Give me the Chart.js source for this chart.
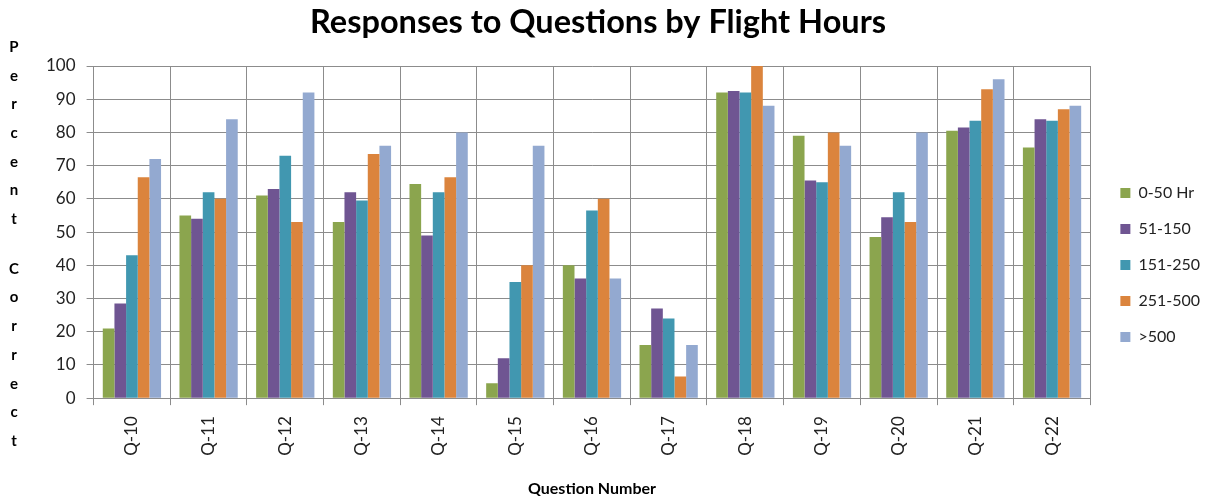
<!DOCTYPE html>
<html>
<head>
<meta charset="utf-8">
<script src="https://cdn.jsdelivr.net/npm/chart.js@4.4.1/dist/chart.umd.min.js"></script>
<style>
  html, body { margin: 0; padding: 0; background: #fff; }
  #wrap { width: 1216px; height: 500px; }
</style>
</head>
<body>
<div id="wrap"><canvas id="chart" width="1216" height="500"></canvas></div>
<script>
// Question categories (x axis)
const questions = ['Q-10', 'Q-11', 'Q-12', 'Q-13', 'Q-14', 'Q-15', 'Q-16',
  'Q-17', 'Q-18', 'Q-19', 'Q-20', 'Q-21', 'Q-22'];

// Percent correct per flight-hours group
const hrs0to50    = [21, 55, 61, 53, 64.5, 4.5, 40, 16, 92, 79, 48.5, 80.5, 75.5];
const hrs51to150  = [28.5, 54, 63, 62, 49, 12, 36, 27, 92.5, 65.5, 54.5, 81.5, 84];
const hrs151to250 = [43, 62, 73, 59.5, 62, 35, 56.5, 24, 92, 65, 62, 83.5, 83.5];
const hrs251to500 = [66.5, 60, 53, 73.5, 66.5, 40, 60, 6.5, 100, 80, 53, 93, 87];
const hrsOver500  = [72, 84, 92, 76, 80, 76, 36, 16, 88, 76, 80, 96, 88];

const seriesNames = ['0-50 Hr', '51-150', '151-250', '251-500', '>500'];
const seriesColors = ['#8ba54e', '#6f5592', '#4197b0', '#db843d', '#93a9d0'];

const yTicks = [0, 10, 20, 30, 40, 50, 60, 70, 80, 90, 100];
const yTitle = 'Percent Correct';

const FONT = 'Lato, "Open Sans", sans-serif';
const GRID = '#8c8c8c';

const datasets = [hrs0to50, hrs51to150, hrs151to250, hrs251to500, hrsOver500].map((d, i) => ({
  label: seriesNames[i],
  data: d,
  backgroundColor: seriesColors[i],
  borderWidth: 0,
  categoryPercentage: 0.76,
  barPercentage: 1.0
}));

// stacked letters for the y axis title, like the original
const stackedTitle = {
  id: 'stackedTitle',
  afterDraw(chart) {
    const ctx = chart.ctx;
    ctx.save();
    ctx.font = 'bold 15px ' + FONT;
    ctx.fillStyle = '#000';
    ctx.textAlign = 'center';
    ctx.textBaseline = 'middle';
    let y = 47;
    for (const ch of yTitle) {
      if (ch === ' ') { y += 21; continue; }
      ctx.fillText(ch, 14, y);
      y += 28.7;
    }
    ctx.restore();
  }
};

// nudge title and legend to where the original has them
const nudgeBoxes = {
  id: 'nudgeBoxes',
  afterLayout(chart) {
    const t = chart.titleBlock;
    if (t) { t.left -= 23; t.right -= 23; }
    const lg = chart.legend;
    if (lg) { lg.left += 10; lg.right += 10; lg.top += 16; lg.bottom += 16; }
  }
};

new Chart(document.getElementById('chart'), {
  type: 'bar',
  data: { labels: questions, datasets },
  plugins: [stackedTitle, nudgeBoxes],
  options: {
    responsive: false,
    animation: false,
    layout: { padding: { left: 35, right: 9, top: 0, bottom: 2 } },
    plugins: {
      title: {
        display: true,
        text: 'Responses to Questions by Flight Hours',
        color: '#000',
        font: { family: FONT, size: 32.5, weight: 'bold' },
        padding: { top: 3, bottom: 24 }
      },
      legend: {
        position: 'right',
        labels: {
          color: '#222',
          font: { family: FONT, size: 16 },
          boxWidth: 10,
          boxHeight: 10,
          padding: 20
        }
      },
      tooltip: { enabled: false }
    },
    scales: {
      x: {
        grid: { color: GRID, tickLength: 7, offset: true },
        border: { color: GRID },
        ticks: {
          color: '#222',
          font: { family: FONT, size: 17 },
          minRotation: 90,
          maxRotation: 90,
          padding: 11
        },
        title: {
          display: true,
          text: 'Question Number',
          color: '#000',
          font: { family: FONT, size: 16, weight: 'bold' },
          padding: { top: 12, bottom: 0 }
        }
      },
      y: {
        min: 0,
        max: 100,
        afterBuildTicks(scale) { scale.ticks = yTicks.map(v => ({ value: v })); },
        grid: { color: GRID, tickLength: 7 },
        border: { color: GRID },
        ticks: {
          color: '#222',
          font: { family: FONT, size: 17 },
          padding: 11
        }
      }
    }
  }
});

// widen the legend box slightly, then relayout
const chart = Chart.getChart('chart');
const baseFit = chart.legend.fit;
chart.legend.fit = function () { baseFit.call(this); this.width += 7; };
chart.update();
</script>
</body>
</html>
